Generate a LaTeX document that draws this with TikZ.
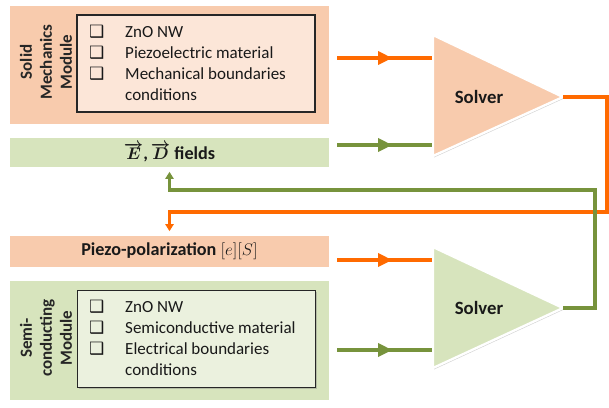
\documentclass[tikz,border=0pt]{standalone}
\usepackage{fontspec}
\setmainfont{Carlito}
\newfontfamily\boxfont{DejaVu Sans}
\usetikzlibrary{positioning,arrows.meta,shadows,decorations.markings}
\definecolor{mechfill}{HTML}{F8CBAD}
\definecolor{mechlight}{HTML}{FCE6D8}
\definecolor{semifill}{HTML}{D7E4BD}
\definecolor{semilight}{HTML}{EBF1DE}
\definecolor{orangeline}{HTML}{FF6A00}
\definecolor{greenline}{HTML}{77933C}
\newcommand{\chk}{{\boxfont\char"2751}}

\begin{document}
\begin{tikzpicture}[
    x=0.03cm, y=-0.03cm,
    panel/.style={draw=white, line width=2.5pt, minimum width=9.63cm,
      drop shadow={shadow xshift=0.8pt, shadow yshift=-1.2pt, opacity=0.35}},
    listbox/.style={draw=black!85, line width=0.9pt, minimum width=7.14cm, minimum height=2.91cm,
      drop shadow={shadow xshift=1pt, shadow yshift=-1pt, opacity=0.4}},
    items/.style={anchor=west, inner sep=0pt, font=\fontsize{14.5}{17.9}\selectfont, text=black!90},
    side/.style={rotate=90, align=center, font=\bfseries\fontsize{14.5}{17}\selectfont, text=black!85},
    heading/.style={font=\bfseries\fontsize{15.5}{17}\selectfont, text=black!90},
    solver/.style={draw=white, line width=2pt, line join=round,
      drop shadow={shadow xshift=1pt, shadow yshift=-1.2pt, opacity=0.35}},
    oflow/.style={draw=orangeline, line width=3pt, postaction=decorate,
      decoration={markings, mark=at position 0.58 with {\arrow{Triangle[length=12pt,width=11pt]}}}},
    gflow/.style={draw=greenline, line width=3pt, postaction=decorate,
      decoration={markings, mark=at position 0.58 with {\arrow{Triangle[length=12pt,width=11pt]}}}},
    feed/.style={line width=2.6pt, -{Triangle[length=6pt,width=7pt]}, shorten >=2pt}
]
\useasboundingbox (0,0) rectangle (609,407);

% left column
\node[panel, fill=mechfill, minimum height=3.6cm] (mech) at (169.5,65) {};
\node[listbox, fill=mechlight] (mechlist) at (196,63.5) {};
\node[items] (mechitems) at (89,64.5) {\begin{tabular}{@{}p{1.08cm}@{}l@{}}
  \chk & ZnO NW\\ \chk & Piezoelectric material\\ \chk & Mechanical boundaries\\ & conditions
\end{tabular}};
\node[side] (mechname) at (46,62) {Solid\\Mechanics\\Module};

\node[panel, heading, fill=semifill, minimum height=0.93cm] (fields) at (169.5,152.5)
  {{\boldmath$\overrightarrow{E}$,\,$\overrightarrow{D}$} fields};

\node[panel, heading, fill=mechfill, minimum height=0.99cm] (piezo) at (169.5,251.5)
  {Piezo-polarization \mdseries$[e][S]$};

\node[panel, fill=semifill, minimum height=3.63cm] (semi) at (169.5,340.5) {};
\node[listbox, fill=semilight] (semilist) at (196.5,339) {};
\node[items] (semiitems) at (89,340) {\begin{tabular}{@{}p{1.08cm}@{}l@{}}
  \chk & ZnO NW\\ \chk & Semiconductive material\\ \chk & Electrical boundaries\\ & conditions
\end{tabular}};
\node[side] (seminame) at (46,338) {Semi-\\conducting\\Module};

% solvers
\coordinate (s1top) at (433,35);
\coordinate (s1bot) at (433,156);
\coordinate (s1apex) at (563,97);
\coordinate (s2top) at (433,247);
\coordinate (s2bot) at (433,368);
\coordinate (s2apex) at (563,308);
\path[solver, fill=mechfill] (s1top) -- (s1apex) -- (s1bot) -- cycle;
\path[solver, fill=semifill] (s2top) -- (s2apex) -- (s2bot) -- cycle;
\node[heading, font=\bfseries\fontsize{16}{18}\selectfont] (solver1) at (479,97) {Solver};
\node[heading, font=\bfseries\fontsize{16}{18}\selectfont] (solver2) at (479,308) {Solver};

% inputs
\coordinate (s1in1) at (432,58);
\coordinate (s1in2) at (432,145);
\coordinate (s2in1) at (432,260);
\coordinate (s2in2) at (432,350);
\draw[oflow] ([xshift=5pt]mech.east |- s1in1) -- (s1in1);
\draw[gflow] ([xshift=5pt]fields.east |- s1in2) -- (s1in2);
\draw[oflow] ([xshift=5pt]piezo.east |- s2in1) -- (s2in1);
\draw[gflow] ([xshift=5pt]semi.east |- s2in2) -- (s2in2);

% feedback
\coordinate (ofb) at (607,212);
\coordinate (gfb) at (595,190);
\draw[feed, orangeline] (s1apex) -| (ofb) -| (piezo.north);
\draw[feed, greenline] (s2apex) -| (gfb) -| (fields.south);
\end{tikzpicture}
\end{document}
